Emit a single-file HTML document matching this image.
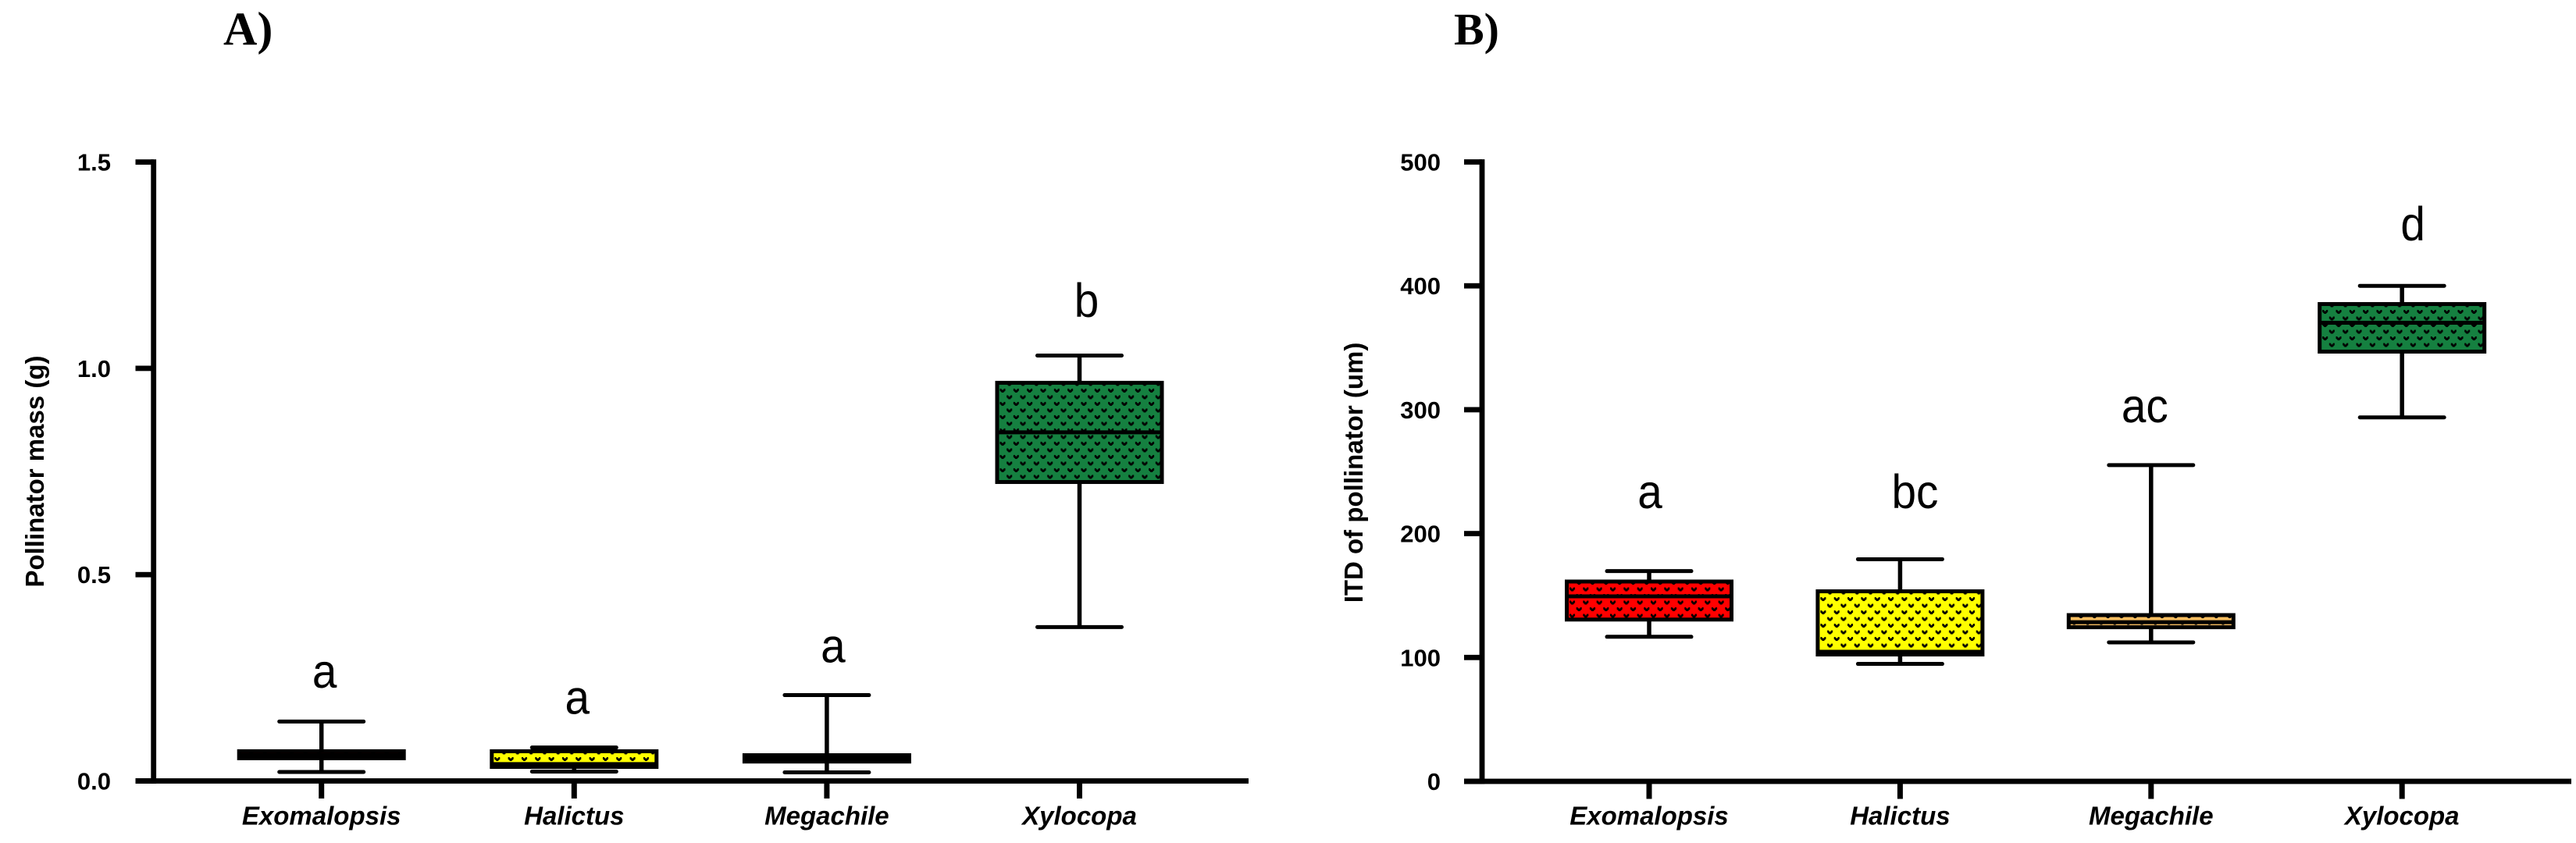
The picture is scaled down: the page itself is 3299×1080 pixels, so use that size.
<!DOCTYPE html>
<html lang="en">
<head>
<meta charset="utf-8">
<title>Pollinator mass and ITD box plots</title>
<style>
html,body{margin:0;padding:0;background:#fff;}
body{width:3299px;height:1080px;overflow:hidden;}
svg{display:block;}
text{fill:#000;}
.tick{font:bold 31px "Liberation Sans",sans-serif;text-anchor:end;}
.cat{font:italic bold 33px "Liberation Sans",sans-serif;text-anchor:middle;}
.title{font:bold 33px "Liberation Sans",sans-serif;text-anchor:middle;}
.sig{font:61px "Liberation Sans",sans-serif;text-anchor:middle;}
.panel{font:bold 60px "Liberation Serif",serif;}
</style>
</head>
<body>
<svg id="chart" xmlns="http://www.w3.org/2000/svg" width="3299" height="1080" viewBox="0 0 3299 1080">
  <rect x="0" y="0" width="3299" height="1080" fill="#ffffff"/>
  <defs id="defs"></defs>
  <text class="panel" x="286" y="57">A)</text>
  <text class="panel" x="1862" y="57" style="font-size:58px">B)</text>
  <text class="title" transform="translate(56,604) rotate(-90)">Pollinator mass (g)</text>
  <text class="title" transform="translate(1745,605.5) rotate(-90)">ITD of pollinator (um)</text>
  <g id="panel-a"></g>
  <g id="panel-b"></g>
</svg>
<script>
const categories = ['Exomalopsis', 'Halictus', 'Megachile', 'Xylocopa'];
const fillColors = ['#ff0000', '#ffff00', '#f7bd5f', '#158040'];

const massTicks = [0, 0.5, 1.0, 1.5];
const massTickLabels = ['0.0', '0.5', '1.0', '1.5'];
const massHigh = [0.144, 0.081, 0.208, 1.031];
const massQ3 = [0.072, 0.072, 0.0624, 0.965];
const massMedian = [0.063, 0.041, 0.055, 0.845];
const massQ1 = [0.055, 0.034, 0.047, 0.7245];
const massLow = [0.0218, 0.0227, 0.0208, 0.373];
const massSig = ['a', 'a', 'a', 'b'];
const massSigAt = [0.226, 0.163, 0.288, 1.125];

const itdTicks = [0, 100, 200, 300, 400, 500];
const itdTickLabels = ['0', '100', '200', '300', '400', '500'];
const itdHigh = [169.7, 179.3, 255.3, 400];
const itdQ3 = [161.3, 153.4, 134.2, 385.3];
const itdMedian = [149.3, 104.6, 128.5, 370.2];
const itdQ1 = [130.6, 102.4, 124.4, 346.9];
const itdLow = [116.7, 94.8, 112.2, 293.8];
const itdSig = ['a', 'bc', 'ac', 'd'];
const itdSigAt = [220.6, 220.6, 289.8, 436.8];

const NS = 'http://www.w3.org/2000/svg';
const defs = document.getElementById('defs');

function mk(tag, attrs, parent) {
  const el = document.createElementNS(NS, tag);
  for (const k in attrs) el.setAttribute(k, attrs[k]);
  parent.appendChild(el);
  return el;
}

function glyphPath(ox, oy) {
  return 'M' + ox + ' ' + oy + 'h2v1h1v1h1v-1h1v-1h2v3h-1v1h-1v1h-3v-1h-1v-1h-1z';
}

function makePattern(id, color, x, y) {
  const p = mk('pattern', {id: id, patternUnits: 'userSpaceOnUse', x: x, y: y, width: 17.33, height: 17}, defs);
  mk('rect', {x: 0, y: 0, width: 17.33, height: 17, fill: color}, p);
  mk('path', {d: glyphPath(0, 0) + glyphPath(8.67, 8.5), fill: '#000'}, p);
}

function drawPanel(cfg) {
  const root = document.getElementById(cfg.rootId);
  const yScale = function (v) { return cfg.y0 - v * cfg.yPerUnit; };
  const xScale = function (i) { return cfg.x0 + i * cfg.xStep; };
  const BOX_HALF = 105.5, CAP_HALF = 54, LW = 5;

  const yAxis = mk('rect', {x: cfg.axisX - 3.4, y: yScale(cfg.ticks[cfg.ticks.length - 1]) - 3.4, width: 6.8, height: yScale(0) - yScale(cfg.ticks[cfg.ticks.length - 1]) + 6.8, fill: '#000'}, root);
  
  

  const xAxis = mk('rect', {x: cfg.tickX, y: yScale(0) - 3.4, width: cfg.axisEnd - cfg.tickX, height: 6.8, fill: '#000'}, root);
  
  

  cfg.ticks.forEach(function (t, i) {
    const mark = mk('rect', {x: cfg.tickX, y: yScale(t) - 3.4, width: cfg.axisX - cfg.tickX, height: 6.8, fill: '#000'}, root);
    
    
    const label = mk('text', {class: 'tick', x: cfg.labelX, y: yScale(t) + 11}, root);
    
    
    label.textContent = cfg.tickLabels[i];
  });

  categories.forEach(function (cat, i) {
    const cx = xScale(i);
    const slug = cfg.key + '-' + cat.toLowerCase();

    const xt = mk('rect', {x: cx - 3.5, y: yScale(0), width: 7, height: 22.5, fill: '#000'}, root);
    
    

    const xl = mk('text', {class: 'cat', x: cx, y: 1056.5}, root);
    
    
    xl.textContent = cat;

    const g = mk('g', {}, root);
    
    

    const top = yScale(cfg.q3[i]), bottom = yScale(cfg.q1[i]);

    const stem = mk('line', {x1: cx, x2: cx, y1: yScale(cfg.high[i]), y2: yScale(cfg.low[i]), stroke: '#000', 'stroke-width': LW + 0.5}, g);
    
    

    const capHigh = mk('line', {x1: cx - CAP_HALF, x2: cx + CAP_HALF, y1: yScale(cfg.high[i]), y2: yScale(cfg.high[i]), stroke: '#000', 'stroke-width': LW, 'stroke-linecap': 'round'}, g);
    
    

    const capLow = mk('line', {x1: cx - CAP_HALF, x2: cx + CAP_HALF, y1: yScale(cfg.low[i]), y2: yScale(cfg.low[i]), stroke: '#000', 'stroke-width': LW, 'stroke-linecap': 'round'}, g);
    
    

    const pid = 'pat-' + slug;
    makePattern(pid, fillColors[i], cx - BOX_HALF - 2.5 + 6, top - 2.5 + 10);

    const box = mk('rect', {x: cx - BOX_HALF, y: top, width: BOX_HALF * 2, height: bottom - top, fill: 'url(#' + pid + ')', stroke: '#000', 'stroke-width': LW}, g);
    
    

    const med = mk('line', {x1: cx - BOX_HALF, x2: cx + BOX_HALF, y1: yScale(cfg.median[i]), y2: yScale(cfg.median[i]), stroke: '#000', 'stroke-width': LW}, g);
    
    

    const sig = mk('text', {class: 'sig', transform: 'translate(' + (cx + cfg.sigDx[i]) + ',' + yScale(cfg.sigAt[i]) + ') scale(0.93,1)'}, root);
    
    
    sig.textContent = cfg.sig[i];
  });
}

drawPanel({
  key: 'mass', rootId: 'panel-a', y0: 1000.5, yPerUnit: 528.6,
  x0: 411.7, xStep: 323.6, axisX: 196.7, tickX: 173.5, axisEnd: 1599, labelX: 142,
  ticks: massTicks, tickLabels: massTickLabels,
  high: massHigh, q3: massQ3, median: massMedian, q1: massQ1, low: massLow,
  sig: massSig, sigAt: massSigAt, sigDx: [4, 4, 8, 9]
});

drawPanel({
  key: 'itd', rootId: 'panel-b', y0: 1001, yPerUnit: 1.587,
  x0: 2112, xStep: 321.4, axisX: 1898, tickX: 1875, axisEnd: 3293, labelX: 1845,
  ticks: itdTicks, tickLabels: itdTickLabels,
  high: itdHigh, q3: itdQ3, median: itdMedian, q1: itdQ1, low: itdLow,
  sig: itdSig, sigAt: itdSigAt, sigDx: [1, 19, -8, 14]
});
</script>
</body>
</html>
